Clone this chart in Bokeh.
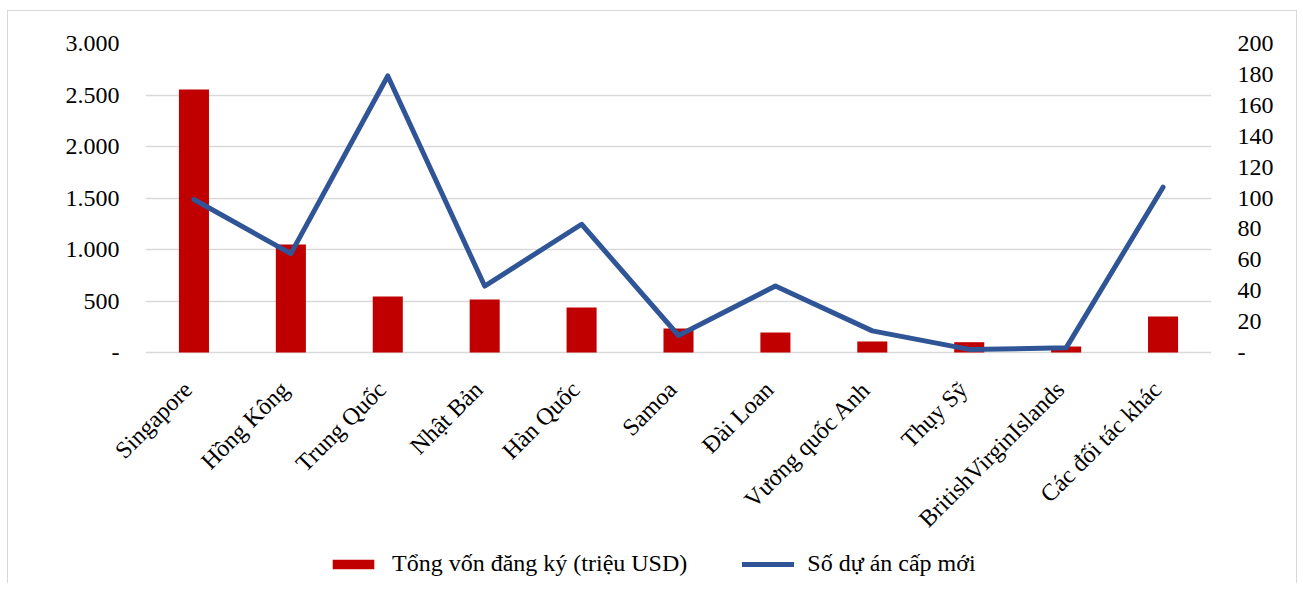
import math
from bokeh.plotting import figure
from bokeh.models import (FactorRange, Range1d, LinearAxis, FixedTicker, CustomJSTickFormatter,
                          Legend, LegendItem, ColumnDataSource)
from bokeh.core.properties import value
from bokeh.embed import file_html
from bokeh.resources import INLINE

categories = ["Singapore", "Hồng Kông", "Trung Quốc", "Nhật Bản", "Hàn Quốc", "Samoa",
              "Đài Loan", "Vương quốc Anh", "Thụy Sỹ", "BritishVirginIslands", "Các đối tác khác"]
capital = [2553, 1049, 544, 515, 437, 233, 194, 107, 100, 58, 350]
projects = [99, 64, 179, 43, 83, 11, 43, 14, 2, 3, 107]
left_ticks = [0, 500, 1000, 1500, 2000, 2500, 3000]
right_ticks = [0, 20, 40, 60, 80, 100, 120, 140, 160, 180, 200]
bar_label = "Tổng vốn đăng ký (triệu USD)"
line_label = "Số dự án cấp mới"

FONT = "Liberation Serif"
FS = "24px"

# layout in pixels: the value axes occupy the top 309 px of a taller frame,
# the space below holds the category labels and the legend
PLOT_PX = 309
FRAME_PX = 540
left_max, right_max = 3000, 200
left_min = -left_max * (FRAME_PX - PLOT_PX) / PLOT_PX
right_min = -right_max * (FRAME_PX - PLOT_PX) / PLOT_PX

p = figure(frame_width=1066, frame_height=FRAME_PX,
           x_range=FactorRange(*categories, range_padding=0),
           y_range=Range1d(left_min, left_max), output_backend="svg", toolbar_location=None,
           min_border_left=137, min_border_right=85, min_border_top=32, min_border_bottom=0)
p.styles = {"border-left": "1px solid #d9d9d9", "border-top": "1px solid #d9d9d9",
            "border-right": "1px solid #d9d9d9", "margin-left": "7px", "margin-top": "10px"}
p.outline_line_color = None
p.extra_y_ranges = {"right": Range1d(right_min, right_max)}

bars = p.vbar(x=categories, top=capital, width=0.31, fill_color="#C00000", line_color=None)
line = p.line(x=categories, y=projects, y_range_name="right", line_color="#2F5597",
              line_width=5, line_join="round", line_cap="round")

# category labels, anchored at each category on the zero line
lab_src = ColumnDataSource(dict(x=categories, y=[0] * len(categories), t=categories))
p.text(x="x", y="y", text="t", source=lab_src, angle=math.pi / 4,
       text_align="right", text_baseline="middle", x_offset=-6, y_offset=33,
       text_font=value(FONT), text_font_size=value(FS), text_color="#000000",
       level="overlay")

fmt = CustomJSTickFormatter(code="""
if (tick == 0) { return "-"; }
return tick.toFixed(0).replace(/\\B(?=(\\d{3})+(?!\\d))/g, ".");
""")

ya = p.yaxis[0]
ya.ticker = FixedTicker(ticks=left_ticks)
ya.formatter = fmt
ra = LinearAxis(y_range_name="right", ticker=FixedTicker(ticks=right_ticks), formatter=fmt)
p.add_layout(ra, "right")

for ax in [ya, ra]:
    ax.axis_line_color = None
    ax.major_tick_line_color = None
    ax.minor_tick_line_color = None
    ax.major_label_text_font = FONT
    ax.major_label_text_font_size = FS
    ax.major_label_text_color = "#000000"
    ax.major_label_standoff = 20

p.xaxis.visible = False
p.xgrid.grid_line_color = None
p.ygrid.ticker = FixedTicker(ticks=left_ticks)
p.ygrid.grid_line_color = "#d9d9d9"
p.ygrid.grid_line_width = 1.5

legend = Legend(items=[LegendItem(label=bar_label, renderers=[bars]),
                       LegendItem(label=line_label, renderers=[line])],
                orientation="horizontal", location=(182, 6),
                label_text_font=FONT, label_text_font_size=FS, label_text_color="#000000",
                glyph_width=52, glyph_height=12, label_standoff=13, spacing=55,
                border_line_color=None, background_fill_alpha=0, margin=0, padding=0)
p.add_layout(legend, "center")

open("out.html", "w").write(file_html(p, INLINE))
